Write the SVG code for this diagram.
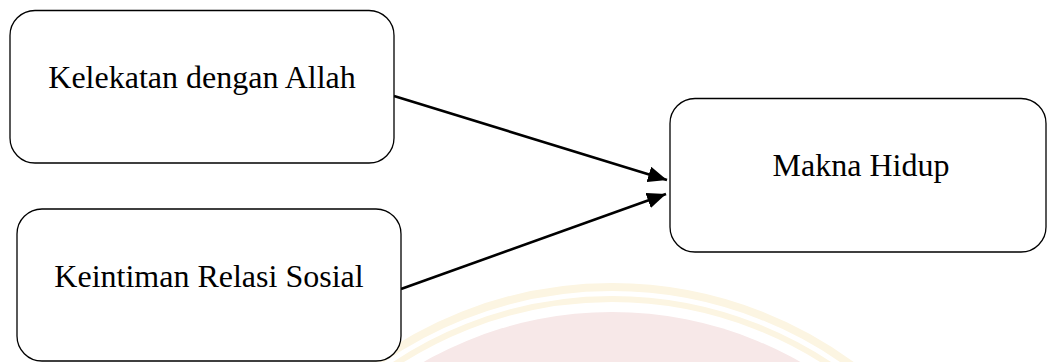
<svg xmlns="http://www.w3.org/2000/svg" width="1048" height="362" viewBox="0 0 1048 362">
<style>
.box{fill:#fff;stroke:#000;stroke-width:1.3}
.lbl{font-family:"Liberation Serif","Times New Roman",serif;font-size:32px;fill:#000;text-anchor:middle}
.conn{stroke:#000;stroke-width:2.6;fill:none}
</style>
<defs>
<marker id="ah" markerUnits="userSpaceOnUse" markerWidth="20" markerHeight="16" viewBox="0 0 20 16" refX="19" refY="8" orient="auto">
<path d="M0,0 L19,8 L0,16 Z" fill="#000"/>
</marker>
<clipPath id="clip"><rect x="0" y="0" width="1048" height="362"/></clipPath>
</defs>
<g id="watermark" clip-path="url(#clip)">
<circle cx="612" cy="692" r="405" fill="none" stroke="#fcf5e2" stroke-width="8"/>
<circle cx="612" cy="692" r="393" fill="none" stroke="#fcf5e2" stroke-width="6"/>
<circle cx="612" cy="692" r="380" fill="#f7e8e8"/>
</g>
<g id="connectors">
<line class="conn" x1="394" y1="96" x2="667" y2="180" marker-end="url(#ah)"/>
<line class="conn" x1="401" y1="289" x2="666" y2="194" marker-end="url(#ah)"/>
</g>
<g id="node-kelekatan">
<rect class="box" x="10" y="10.5" width="384" height="152.5" rx="25"/>
<text class="lbl" x="202" y="88">Kelekatan dengan Allah</text>
</g>
<g id="node-keintiman">
<rect class="box" x="17" y="209" width="384" height="152" rx="25"/>
<text class="lbl" x="209" y="287">Keintiman Relasi Sosial</text>
</g>
<g id="node-makna">
<rect class="box" x="670" y="98.5" width="376" height="153.5" rx="25"/>
<text class="lbl" x="861" y="176">Makna Hidup</text>
</g>
</svg>
